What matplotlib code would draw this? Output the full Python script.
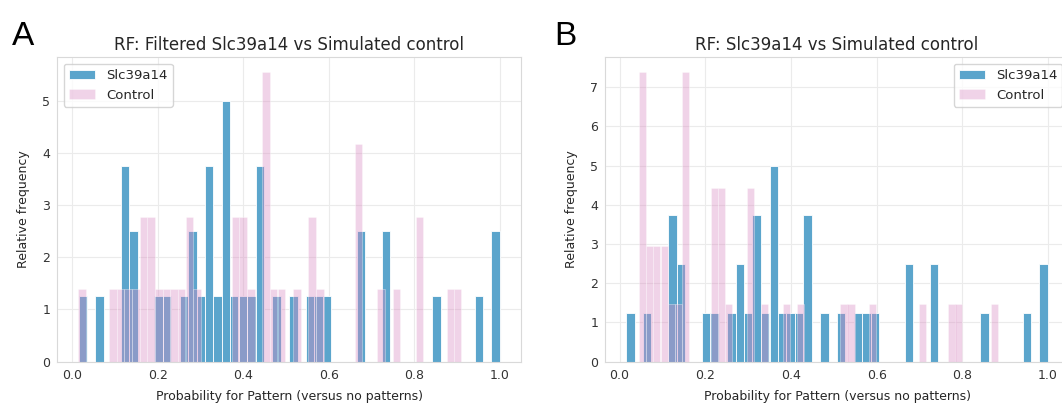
import numpy as np
import matplotlib
matplotlib.use('Agg')
import matplotlib.pyplot as plt

# Slc39a14 (mesmo histograma nos dois paineis)
slc_x = [0.025, 0.064, 0.123, 0.143, 0.202, 0.222, 0.261, 0.281, 0.301, 0.320,
         0.340, 0.360, 0.379, 0.399, 0.419, 0.439, 0.478, 0.517, 0.557, 0.576,
         0.596, 0.675, 0.734, 0.852, 0.951, 0.990]
slc_h = [1.25, 1.25, 3.75, 2.5, 1.25, 1.25, 1.25, 2.5, 1.25, 3.75,
         1.25, 5.0, 1.25, 1.25, 1.25, 3.75, 1.25, 1.25, 1.25, 1.25,
         1.25, 2.5, 2.5, 1.25, 1.25, 2.5]

# Controle simulado - painel A (filtrado)
ctrl_a_x = [0.023, 0.095, 0.113, 0.131, 0.149, 0.167, 0.185, 0.203, 0.221, 0.238,
            0.256, 0.274, 0.292, 0.382, 0.400, 0.418, 0.453, 0.471, 0.489, 0.525,
            0.561, 0.579, 0.669, 0.722, 0.758, 0.812, 0.884, 0.901]
ctrl_a_h = [1.39, 1.39, 1.39, 1.39, 1.39, 2.78, 2.78, 1.39, 1.39, 1.39,
            1.39, 2.78, 1.39, 2.78, 2.78, 1.39, 5.56, 1.39, 1.39, 1.39,
            2.78, 1.39, 4.17, 1.39, 1.39, 2.78, 1.39, 1.39]

# Controle simulado - painel B
ctrl_b_x = [0.054, 0.070, 0.087, 0.104, 0.121, 0.137, 0.154, 0.221, 0.238, 0.255,
            0.305, 0.339, 0.389, 0.423, 0.524, 0.540, 0.591, 0.708, 0.776, 0.792,
            0.876]
ctrl_b_h = [7.4, 2.96, 2.96, 2.96, 1.48, 1.48, 7.4, 4.44, 4.44, 1.48,
            4.44, 1.48, 1.48, 1.48, 1.48, 1.48, 1.48, 1.48, 1.48, 1.48,
            1.48]

titles = ['RF: Filtered Slc39a14 vs Simulated control', 'RF: Slc39a14 vs Simulated control']

azul = '#5ba5cc'
rosa = '#d98cc3'

plt.rcParams['font.family'] = ['DejaVu Sans']
plt.rcParams['axes.edgecolor'] = '#d9d9d9'
plt.rcParams['axes.linewidth'] = 0.8

fig = plt.figure(figsize=(10.62, 4.05), dpi=100)
# painel B passa um pouco da borda direita (figura original recortada)
ax_a = fig.add_axes([0.0537, 0.107, 0.4369, 0.752])
ax_b = fig.add_axes([0.5697, 0.107, 0.4369, 0.752])

paineis = [(ax_a, ctrl_a_x, ctrl_a_h, 0.0179, 'upper left'),
           (ax_b, ctrl_b_x, ctrl_b_h, 0.0168, 'upper right')]

for i, (ax, cx, ch, wc, loc) in enumerate(paineis):
    ax.set_axisbelow(True)
    ax.grid(True, color='#ebebeb', linewidth=0.8)
    ax.bar(slc_x, slc_h, width=0.0197, color=azul, edgecolor='white', linewidth=0.6,
           label='Slc39a14')
    ax.bar(cx, ch, width=wc, color=rosa, alpha=0.38, edgecolor='white', linewidth=0.6,
           label='Control')
    ax.set_xticks([0.0, 0.2, 0.4, 0.6, 0.8, 1.0])
    ax.tick_params(length=0, labelsize=9, labelcolor='#333333', pad=5)
    ax.set_title(titles[i], fontsize=12, color='#262626', pad=5)
    ax.set_xlabel('Probability for Pattern (versus no patterns)', fontsize=9,
                  color='#262626', labelpad=6)
    ax.set_ylabel('Relative frequency', fontsize=9, color='#262626', labelpad=9)
    leg = ax.legend(loc=loc, fontsize=9.5, frameon=True, fancybox=True)
    leg.get_frame().set_edgecolor('#cccccc')
    for t in leg.get_texts():
        t.set_color('#262626')

fig.text(0.011, 0.889, 'A', fontsize=24, family=['Liberation Sans', 'DejaVu Sans'])
fig.text(0.522, 0.889, 'B', fontsize=24, family=['Liberation Sans', 'DejaVu Sans'])

fig.savefig('out.png', dpi=100)
